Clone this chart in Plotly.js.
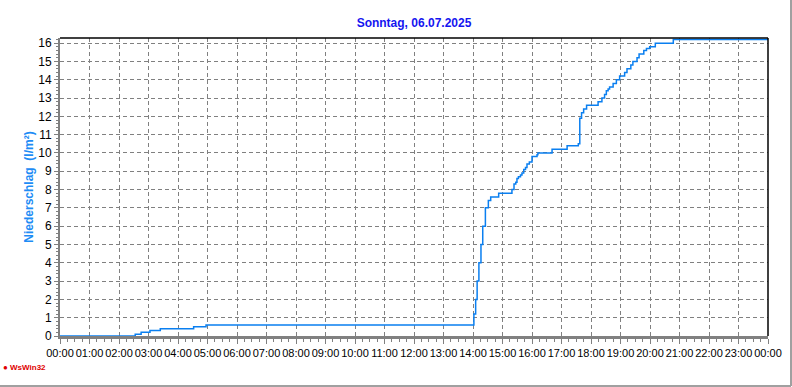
<!DOCTYPE html>
<html>
<head>
<meta charset="utf-8">
<script src="https://cdn.plot.ly/plotly-3.0.1.min.js"></script>
<style>html,body{margin:0;padding:0;background:#fff;}#chart{width:792px;height:387px;}</style>
</head>
<body>
<div id="chart"></div>
<script>
// time of day in hours (step starts) and cumulative precipitation (l/m²)
const hours = [0, 2.55, 2.75, 3.05, 3.4, 4.53, 4.95, 14.0, 14.03, 14.09, 14.14, 14.2, 14.27, 14.33, 14.42, 14.52, 14.6, 14.87,
  15.32, 15.39, 15.45, 15.49, 15.54, 15.61, 15.66, 15.72, 15.78, 15.83, 15.91, 16.0, 16.17, 16.2, 16.68, 17.19, 17.57,
  17.62, 17.68, 17.75, 17.85, 18.24, 18.37, 18.46, 18.52, 18.58, 18.63, 18.75, 18.86, 18.97, 19.14, 19.22, 19.35, 19.42,
  19.56, 19.63, 19.79, 19.88, 19.99, 20.18, 20.79, 24];
const rain = [0, 0.1, 0.2, 0.3, 0.4, 0.5, 0.6, 0.6, 1.2, 2.0, 3.0, 4.0, 5.0, 6.0, 7.0, 7.4, 7.6, 7.8,
  8.0, 8.3, 8.4, 8.6, 8.7, 8.8, 8.9, 9.1, 9.2, 9.4, 9.5, 9.8, 9.9, 10.0, 10.2, 10.4, 10.5,
  11.9, 12.2, 12.4, 12.6, 12.8, 13.0, 13.2, 13.4, 13.5, 13.6, 13.8, 14.0, 14.2, 14.4, 14.6, 14.8, 15.0,
  15.2, 15.4, 15.6, 15.7, 15.8, 16.0, 16.2, 16.2];
const tickHours = [0,1,2,3,4,5,6,7,8,9,10,11,12,13,14,15,16,17,18,19,20,21,22,23,24];
const tickLabels = ["00:00","01:00","02:00","03:00","04:00","05:00","06:00","07:00","08:00","09:00","10:00","11:00",
  "12:00","13:00","14:00","15:00","16:00","17:00","18:00","19:00","20:00","21:00","22:00","23:00","00:00"];
const yTicks = [0,1,2,3,4,5,6,7,8,9,10,11,12,13,14,15,16];
const titleText = "Sonntag, 06.07.2025";
const yTitle = "Niederschlag  (l/m²)";
const logoText = "● WsWin32";

const trace = {
  x: hours, y: rain, type: 'scatter', mode: 'lines',
  line: {shape: 'hv', color: '#0a7ff0', width: 1.5},
  cliponaxis: false, hoverinfo: 'skip'
};

const layout = {
  width: 792, height: 387,
  margin: {l: 60, r: 24, t: 38, b: 51, pad: 0},
  paper_bgcolor: '#ffffff', plot_bgcolor: '#ffffff',
  showlegend: false,
  font: {family: 'Liberation Sans, Arial, sans-serif', size: 11, color: '#000'},
  title: {text: '<b>' + titleText + '</b>', x: 0.5, xref: 'paper', y: 0.94, yref: 'container',
    xanchor: 'center', yanchor: 'middle', font: {family: 'Liberation Sans, Arial, sans-serif', size: 12, color: '#1515f0'}},
  xaxis: {
    range: [0, 24], tickmode: 'array', tickvals: tickHours, ticktext: tickLabels, tickangle: 0,
    showgrid: true, gridcolor: '#808080', griddash: '4px,3px', gridwidth: 1,
    zeroline: false, showline: true, linecolor: '#808080', linewidth: 3,
    ticks: 'outside', ticklen: 5, tickcolor: '#808080', tickwidth: 1,
    minor: {dtick: 0.25, ticks: 'outside', ticklen: 3, tickcolor: '#808080', showgrid: false},
    tickfont: {size: 11, color: '#000'}, layer: 'below traces', fixedrange: true
  },
  yaxis: {
    range: [0, 16.28], tickmode: 'array', tickvals: yTicks,
    showgrid: true, gridcolor: '#808080', griddash: '4px,3px', gridwidth: 1,
    zeroline: false, showline: true, linecolor: '#808080', linewidth: 2,
    ticks: 'outside', ticklen: 4, tickcolor: '#808080', tickwidth: 1,
    minor: {dtick: 0.2, ticks: 'outside', ticklen: 2, tickcolor: '#808080', showgrid: false},
    tickfont: {size: 12, color: '#000'}, layer: 'below traces', fixedrange: true,
    title: {text: '<b>' + yTitle + '</b>', standoff: 2, font: {family: 'Liberation Sans, Arial, sans-serif', size: 12, color: '#1e8cf5'}}
  },
  shapes: [
    {type: 'line', xref: 'paper', yref: 'paper', x0: 0, x1: 1, y0: 1, y1: 1, line: {color: '#000', width: 1.5}},
    {type: 'line', xref: 'paper', yref: 'paper', x0: 1, x1: 1, y0: 0, y1: 1, line: {color: '#000', width: 1.5}},
    {type: 'line', xref: 'paper', yref: 'paper', x0: -0.085, x1: 1.0325, y0: -0.168, y1: -0.168, line: {color: '#a0a0a0', width: 2}},
    {type: 'line', xref: 'paper', yref: 'paper', x0: 1.0325, x1: 1.0325, y0: -0.168, y1: 1.13, line: {color: '#a0a0a0', width: 2}}
  ],
  annotations: [
    {text: '<b>' + logoText + '</b>', xref: 'paper', yref: 'paper', x: -0.083, y: -0.105, xanchor: 'left', yanchor: 'middle',
      showarrow: false, font: {family: 'Liberation Sans, Arial, sans-serif', size: 8, color: '#e00000'}}
  ]
};

Plotly.newPlot('chart', [trace], layout, {displayModeBar: false, staticPlot: true});
</script>
</body>
</html>
